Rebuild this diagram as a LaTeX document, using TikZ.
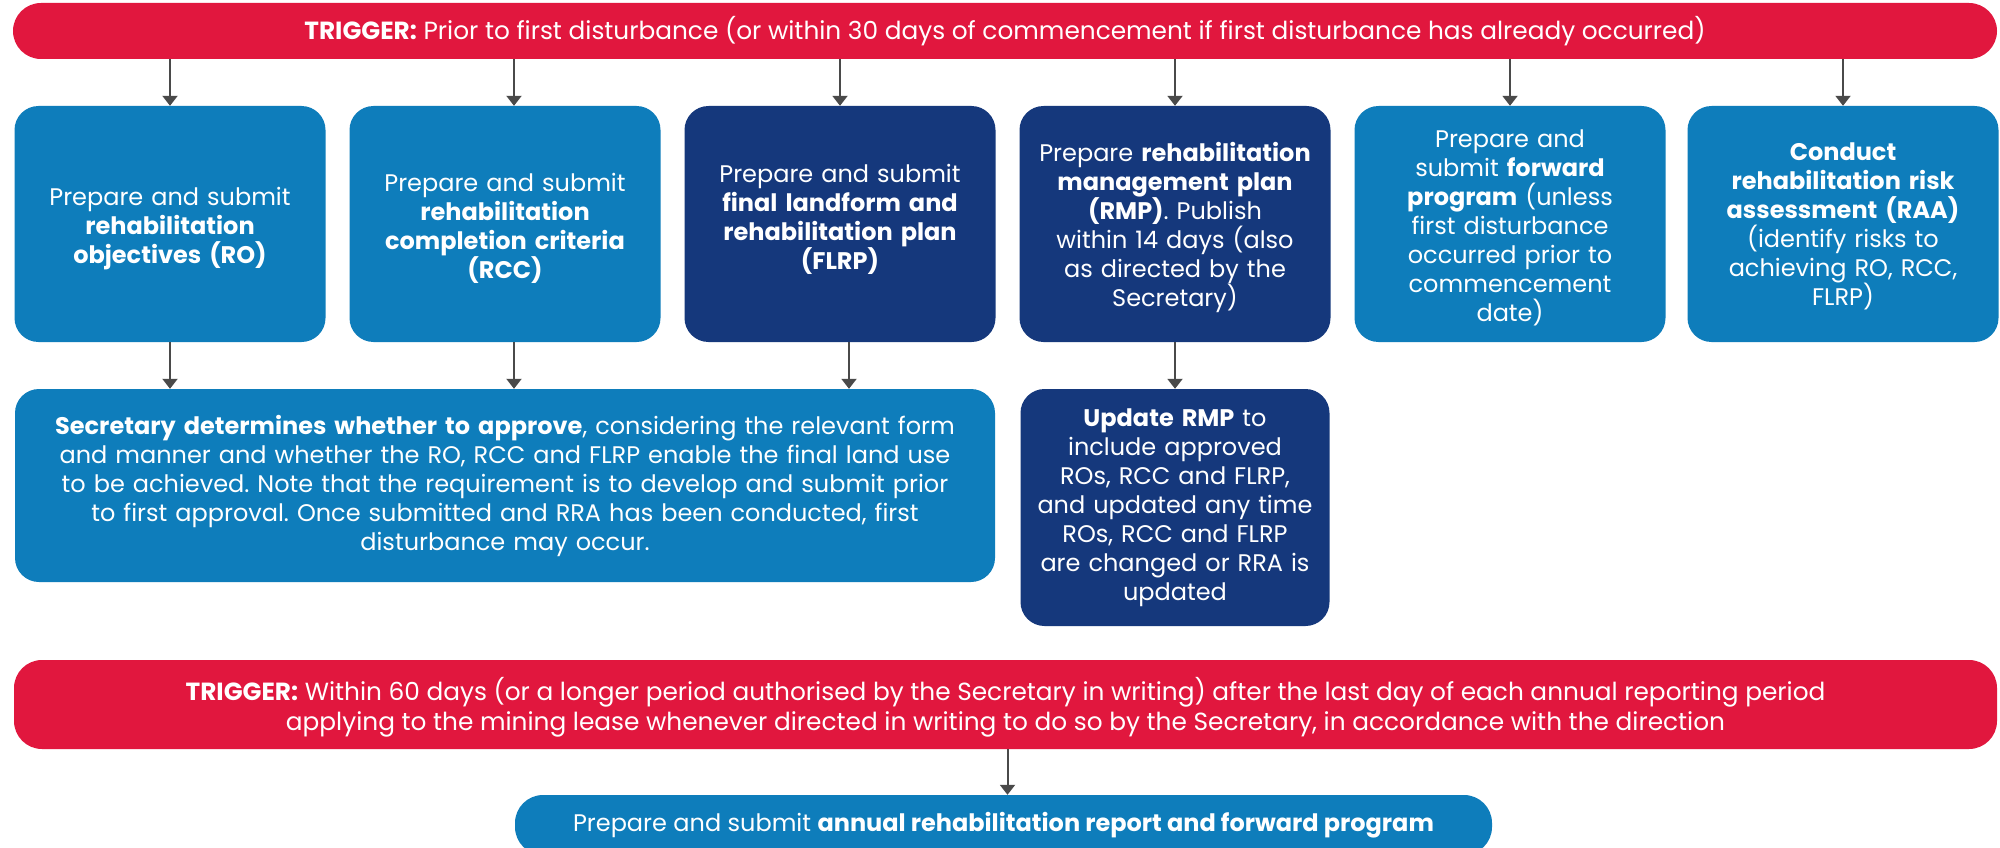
\documentclass[tikz,border=0pt]{standalone}
\usepackage{fontspec}
\setmainfont{Poppins}
\frenchspacing
\usetikzlibrary{arrows.meta,calc}
\definecolor{trigred}{HTML}{E1173E}
\definecolor{stepblue}{HTML}{0E7DBB}
\definecolor{stepnavy}{HTML}{15387C}
\definecolor{arrgray}{HTML}{4A4A4A}
\tikzset{
  basefont/.style={font=\fontsize{24}{29}\selectfont},
  trigfont/.style={font=\fontsize{24.8}{30}\selectfont},
  trigbar/.style={trigfont, fill=trigred, text=white, rounded corners=28pt, inner sep=0pt, align=center},
  bluebox/.style={basefont, fill=stepblue, text=white, rounded corners=24pt, inner sep=0pt, align=center, text width=305pt, minimum width=311pt, minimum height=236pt},
  navybox/.style={bluebox, fill=stepnavy},
  boxtext/.style={basefont, text=white, inner sep=0pt, align=center, text width=305pt},
  arr/.style={draw=arrgray, line width=2pt, -{Triangle[length=10pt,width=15pt]}}
}
\begin{document}
\begin{tikzpicture}[x=1pt,y=-1pt]
\useasboundingbox (0,0) rectangle (2000,848);
\clip (0,0) rectangle (2000,848);
\fill[white] (0,0) rectangle (2000,848);

% top trigger
\node[trigbar, minimum width=1984pt, minimum height=56pt] (trig1) at (1005,31)
  {\textbf{TRIGGER:} Prior to first disturbance (or within 30 days of commencement if first disturbance has already occurred)};

% row 1 boxes
\node[bluebox] (b1) at (170,224) {};
\node[bluebox] (b2) at (505,224) {};
\node[navybox] (b3) at (840,224) {};
\node[navybox] (b4) at (1175,224) {};
\node[bluebox] (b5) at (1510,224) {};
\node[bluebox] (b6) at (1843,224) {};

% row 1 texts
\node[boxtext] (b1t) at ([yshift=-5pt]b1.center)
  {Prepare and submit\\ \textbf{rehabilitation}\\ \textbf{objectives (RO)}};
\node[boxtext] (b2t) at ([yshift=-4pt]b2.center)
  {Prepare and submit\\ \textbf{rehabilitation}\\ \textbf{completion criteria}\\ \textbf{(RCC)}};
\node[boxtext] (b3t) at ([yshift=5pt]b3.center)
  {Prepare and submit\\ \textbf{final landform and}\\ \textbf{rehabilitation plan}\\ \textbf{(FLRP)}};
\node[boxtext] (b4t) at ([yshift=-3pt]b4.center)
  {Prepare \textbf{rehabilitation}\\ \textbf{management plan}\\ \textbf{(RMP)}. Publish\\ within 14 days (also\\ as directed by the\\ Secretary)};
\node[boxtext] (b5t) at ([yshift=-4pt]b5.center)
  {Prepare and\\ submit \textbf{forward}\\ \textbf{program} (unless\\ first disturbance\\ occurred prior to\\ commencement\\ date)};
\node[boxtext] (b6t) at ([yshift=-2pt]b6.center)
  {\textbf{Conduct}\\ \textbf{rehabilitation risk}\\ \textbf{assessment (RAA)}\\ (identify risks to\\ achieving RO, RCC,\\ FLRP)};

% row 2
\node[bluebox, text width=950pt, minimum width=980pt, minimum height=193pt] (sec) at (505,485.5)
  {\textbf{Secretary determines whether to approve}, considering the relevant form\\
   and manner and whether the RO, RCC and FLRP enable the final land use\\
   to be achieved. Note that the requirement is to develop and submit prior\\
   to first approval. Once submitted and RRA has been conducted, first\\
   disturbance may occur.};
\node[navybox, minimum width=309pt, minimum height=237pt] (upd) at (1175,507.5)
  {\textbf{Update RMP} to\\ include approved\\ ROs, RCC and FLRP,\\ and updated any time\\ ROs, RCC and FLRP\\ are changed or RRA is\\ updated};

% bottom trigger
\node[trigbar, minimum width=1983pt, minimum height=89pt] (trig2) at (1005.5,704.5) {};
\node[trigfont, text=white, inner sep=0pt, align=center] (trig2t) at ([yshift=-3pt]trig2.center)
  {\textbf{TRIGGER:} Within 60 days (or a longer period authorised by the Secretary in writing) after the last day of each annual reporting period\\
   applying to the mining lease whenever directed in writing to do so by the Secretary, in accordance with the direction};

\node[trigbar, basefont, fill=stepblue, minimum width=977pt, minimum height=60pt] (final) at (1003.5,825)
  {Prepare and submit \textbf{annual rehabilitation report and forward program}};

% arrows from top trigger
\draw[arr] (trig1.south -| b1.north) -- (b1.north);
\draw[arr] ([xshift=9pt]b2.north |- trig1.south) -- ([xshift=9pt]b2.north);
\draw[arr] (trig1.south -| b3.north) -- (b3.north);
\draw[arr] (trig1.south -| b4.north) -- (b4.north);
\draw[arr] (trig1.south -| b5.north) -- (b5.north);
\draw[arr] (trig1.south -| b6.north) -- (b6.north);

% arrows to row 2
\draw[arr] (b1.south) -- (b1.south |- sec.north);
\draw[arr] ([xshift=9pt]b2.south) -- ([xshift=9pt]b2.south |- sec.north);
\draw[arr] ([xshift=9pt]b3.south) -- ([xshift=9pt]b3.south |- sec.north);
\draw[arr] (b4.south) -- (upd.north);

% bottom
\draw[arr] ([xshift=4pt]final.north |- trig2.south) -- ([xshift=4pt]final.north);
\end{tikzpicture}
\end{document}
